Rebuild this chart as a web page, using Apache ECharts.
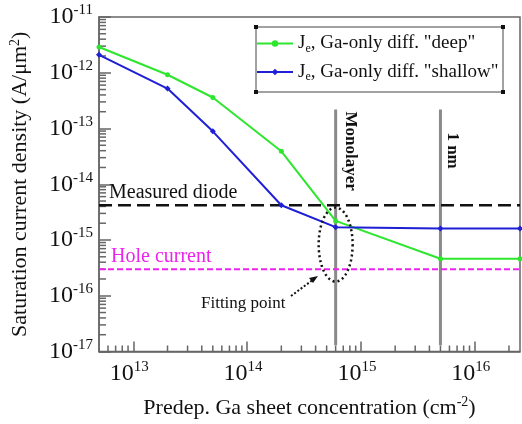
<!DOCTYPE html>
<html>
<head>
<meta charset="utf-8">
<script src="https://cdn.jsdelivr.net/npm/echarts@6/dist/echarts.min.js"></script>
<style>
  html, body { margin: 0; padding: 0; background: #fff; }
  #main { width: 522px; height: 424px; }
</style>
</head>
<body>
<div id="main"></div>
<script>
// Ga sheet concentration (cm^-2) vs Je (A/um^2)
const deepX = [5e12, 2e13, 5e13, 2e14, 6e14, 5e15, 2.5e16];
const deepY = [2.9e-12, 9.2e-13, 3.6e-13, 3.9e-14, 2.2e-15, 4.6e-16, 4.6e-16];
const shallowX = [5e12, 2e13, 5e13, 2e14, 6e14, 5e15, 2.5e16];
const shallowY = [2.1e-12, 5.2e-13, 8.9e-14, 4.2e-15, 1.7e-15, 1.6e-15, 1.6e-15];

const measuredDiode = 4.2e-15;
const holeCurrent = 3.0e-16;
const monolayerX = 6e14;
const oneNmX = 5e15;
const guideTop = 2.2e-13;
const guideBottom = 1.3e-17;

const xMin = 5e12, xMax = 2.5e16;
const yMin = 1e-17, yMax = 1e-11;

const FONT = "Liberation Serif";

// minor tick positions (2..9 x 10^k)
function minorTicks(lo, hi) {
  let out = [];
  for (let e = Math.floor(Math.log10(lo)); e <= Math.ceil(Math.log10(hi)); e++) {
    for (let m = 2; m <= 9; m++) {
      let v = m * Math.pow(10, e);
      if (v > lo * 1.0001 && v < hi * 0.9999) out.push(v);
    }
  }
  return out;
}
const xMinor = minorTicks(xMin, xMax);
const yMinor = minorTicks(yMin, yMax);

function powLabel(v) {
  let lg = Math.log10(v);
  let e = Math.round(lg);
  if (Math.abs(lg - e) > 1e-6) return "";
  return "{b|10}{s|" + e + "}";
}

const supRich = {
  b: { fontFamily: FONT, fontSize: 24, color: "#111" },
  s: { fontFamily: FONT, fontSize: 15, color: "#111", verticalAlign: "bottom", padding: [0, 0, 13, 0] }
};

const legendNames = { deep: '"deep"', shallow: '"shallow"' };

let myChart = echarts.init(document.getElementById("main"));
let option = {
  animation: false,
  textStyle: { fontFamily: FONT },
  grid: {
    left: 91, top: 17, right: 2, bottom: 71,
    show: true, borderColor: "#666", borderWidth: 1.5, backgroundColor: "transparent"
  },
  legend: {
    data: ["deep", "shallow"],
    left: 256, top: 34, orient: "vertical",
    padding: 0,
    itemGap: 8,
    itemWidth: 36, itemHeight: 8,
    borderWidth: 0,
    formatter: function (n) {
      return "{j|J}{e|e}{t|, Ga-only diff. " + legendNames[n] + "}";
    },
    textStyle: {
      fontFamily: FONT, fontSize: 19, color: "#111",
      rich: {
        j: { fontFamily: FONT, fontSize: 19, color: "#111" },
        e: { fontFamily: FONT, fontSize: 12, color: "#111", verticalAlign: "top", padding: [10, 0, 0, 0] },
        t: { fontFamily: FONT, fontSize: 19, color: "#111" }
      }
    }
  },
  xAxis: {
    type: "log", logBase: 10, min: xMin, max: xMax,
    name: "Predep. Ga sheet concentration (cm{s|-2})",
    nameLocation: "middle", nameGap: 44,
    nameTextStyle: {
      fontFamily: FONT, fontSize: 22, color: "#111",
      rich: { s: { fontFamily: FONT, fontSize: 14, color: "#111", verticalAlign: "bottom", padding: [0, 0, 11, 0] } }
    },
    axisLine: { show: true, lineStyle: { color: "#666", width: 1.5 } },
    axisTick: { show: true, inside: true, length: 10, lineStyle: { color: "#666", width: 1.5 } },
    axisLabel: { formatter: powLabel, rich: supRich, margin: 8, padding: [0, 8, 0, 0], showMinLabel: false, showMaxLabel: false },
    splitLine: { show: false },
    minorTick: { show: false }
  },
  yAxis: {
    type: "log", logBase: 10, min: yMin, max: yMax,
    name: "Saturation current density (A/\u03bcm{s|2})",
    nameLocation: "middle", nameGap: 66, nameRotate: 90,
    nameTextStyle: {
      fontFamily: FONT, fontSize: 22, color: "#111",
      rich: { s: { fontFamily: FONT, fontSize: 14, color: "#111", verticalAlign: "bottom", padding: [0, 0, 11, 0] } }
    },
    axisLine: { show: true, lineStyle: { color: "#666", width: 1.5 } },
    axisTick: { show: true, inside: true, length: 12, lineStyle: { color: "#666", width: 1.5 } },
    axisLabel: { formatter: powLabel, rich: supRich, margin: 6 },
    splitLine: { show: false },
    minorTick: { show: false }
  },
  series: [
    {
      name: "deep", type: "line",
      data: deepX.map((x, i) => [x, deepY[i]]),
      color: "#2ee62e",
      lineStyle: { width: 2, color: "#2ee62e" },
      symbol: "circle", symbolSize: 5,
      itemStyle: { color: "#2ee62e" },
      z: 5
    },
    {
      name: "shallow", type: "line",
      data: shallowX.map((x, i) => [x, shallowY[i]]),
      color: "#1f1fd6",
      lineStyle: { width: 2, color: "#1f1fd6" },
      symbol: "diamond", symbolSize: 6,
      itemStyle: { color: "#1f1fd6" },
      z: 6
    },
    {
      name: "measured", type: "line", symbol: "none", silent: true,
      data: [[xMin, measuredDiode], [xMax, measuredDiode]],
      lineStyle: { color: "#111", width: 2.5, type: [13, 6] },
      z: 3
    },
    {
      name: "hole", type: "line", symbol: "none", silent: true,
      data: [[xMin, holeCurrent], [xMax, holeCurrent]],
      lineStyle: { color: "#ee22ee", width: 2, type: [6, 3] },
      z: 3
    },
    {
      name: "monolayer", type: "line", symbol: "none", silent: true,
      data: [[monolayerX, guideTop], [monolayerX, guideBottom]],
      lineStyle: { color: "#8a8a8a", width: 3 },
      z: 2
    },
    {
      name: "onenm", type: "line", symbol: "none", silent: true,
      data: [[oneNmX, guideTop], [oneNmX, guideBottom]],
      lineStyle: { color: "#8a8a8a", width: 3 },
      z: 2
    },
    {
      // minor ticks on the x axis
      type: "custom", silent: true,
      data: xMinor.map(v => [v, yMin]),
      renderItem: function (params, api) {
        let p = api.coord([api.value(0), api.value(1)]);
        return { type: "line", shape: { x1: p[0], y1: p[1], x2: p[0], y2: p[1] - 6 },
                 style: { stroke: "#666", lineWidth: 1.5 } };
      },
      z: 1
    },
    {
      // minor ticks on the y axis
      type: "custom", silent: true,
      data: yMinor.map(v => [xMin, v]),
      renderItem: function (params, api) {
        let p = api.coord([api.value(0), api.value(1)]);
        return { type: "line", shape: { x1: p[0], y1: p[1], x2: p[0] + 7, y2: p[1] },
                 style: { stroke: "#666", lineWidth: 1.5 } };
      },
      z: 1
    }
  ]
};
myChart.setOption(option, true);

// annotations
let fitPt = myChart.convertToPixel({ gridIndex: 0 }, [monolayerX, 2.5e-16]);
let ellPts = [];
for (let i = 0; i <= 72; i++) {
  let a = i / 72 * Math.PI * 2;
  ellPts.push([fitPt[0] + 17 * Math.cos(a), fitPt[1] - 29 + 37 * Math.sin(a)]);
}
let topMono = myChart.convertToPixel({ gridIndex: 0 }, [monolayerX, guideTop]);
let topNm = myChart.convertToPixel({ gridIndex: 0 }, [oneNmX, guideTop]);

let box = [256, 27, 503, 92];
let corners = [[box[0], box[1]], [box[2], box[1]], [box[0], box[3]], [box[2], box[3]]];

myChart.setOption({
  graphic: [
    { type: "polyline", shape: { points: ellPts }, silent: true, z: 10,
      style: { stroke: "#111", lineWidth: 2.5, lineDash: [2, 3], fill: null } },
    { type: "line", shape: { x1: 291, y1: 296, x2: 314, y2: 279 }, silent: true, z: 10,
      style: { stroke: "#111", lineWidth: 2, lineDash: [2, 2] } },
    { type: "polygon", shape: { points: [[318, 276], [309, 278], [313, 283]] }, silent: true, z: 10,
      style: { fill: "#111" } },
    { type: "text", x: 109, y: 193, silent: true, z: 10,
      style: { text: "Measured diode", font: "20px 'Liberation Serif'", fill: "#111", verticalAlign: "middle" } },
    { type: "text", x: 111, y: 257, silent: true, z: 10,
      style: { text: "Hole current", font: "20px 'Liberation Serif'", fill: "#ee22ee", verticalAlign: "middle" } },
    { type: "text", x: 201, y: 304, silent: true, z: 10,
      style: { text: "Fitting point", font: "17px 'Liberation Serif'", fill: "#111", verticalAlign: "middle" } },
    { type: "text", x: topMono[0] + 15, y: topMono[1] + 2, rotation: -Math.PI / 2, silent: true, z: 10,
      style: { text: "Monolayer", font: "bold 17px 'Liberation Serif'", fill: "#111", verticalAlign: "middle", align: "left" } },
    { type: "text", x: topNm[0] + 12, y: topNm[1] + 23, rotation: -Math.PI / 2, silent: true, z: 10,
      style: { text: "1 nm", font: "bold 17px 'Liberation Serif'", fill: "#111", verticalAlign: "middle", align: "left" } },
    { type: "rect", shape: { x: box[0], y: box[1], width: box[2] - box[0], height: box[3] - box[1] },
      style: { fill: null, stroke: "#444", lineWidth: 1 }, silent: true, z: 9 }
  ].concat(corners.map(c => ({
    type: "rect", shape: { x: c[0] - 2, y: c[1] - 2, width: 4, height: 4 },
    style: { fill: "#111" }, silent: true, z: 9
  })))
});

window.addEventListener("resize", () => {
  myChart.resize();
});
</script>
</body>
</html>
